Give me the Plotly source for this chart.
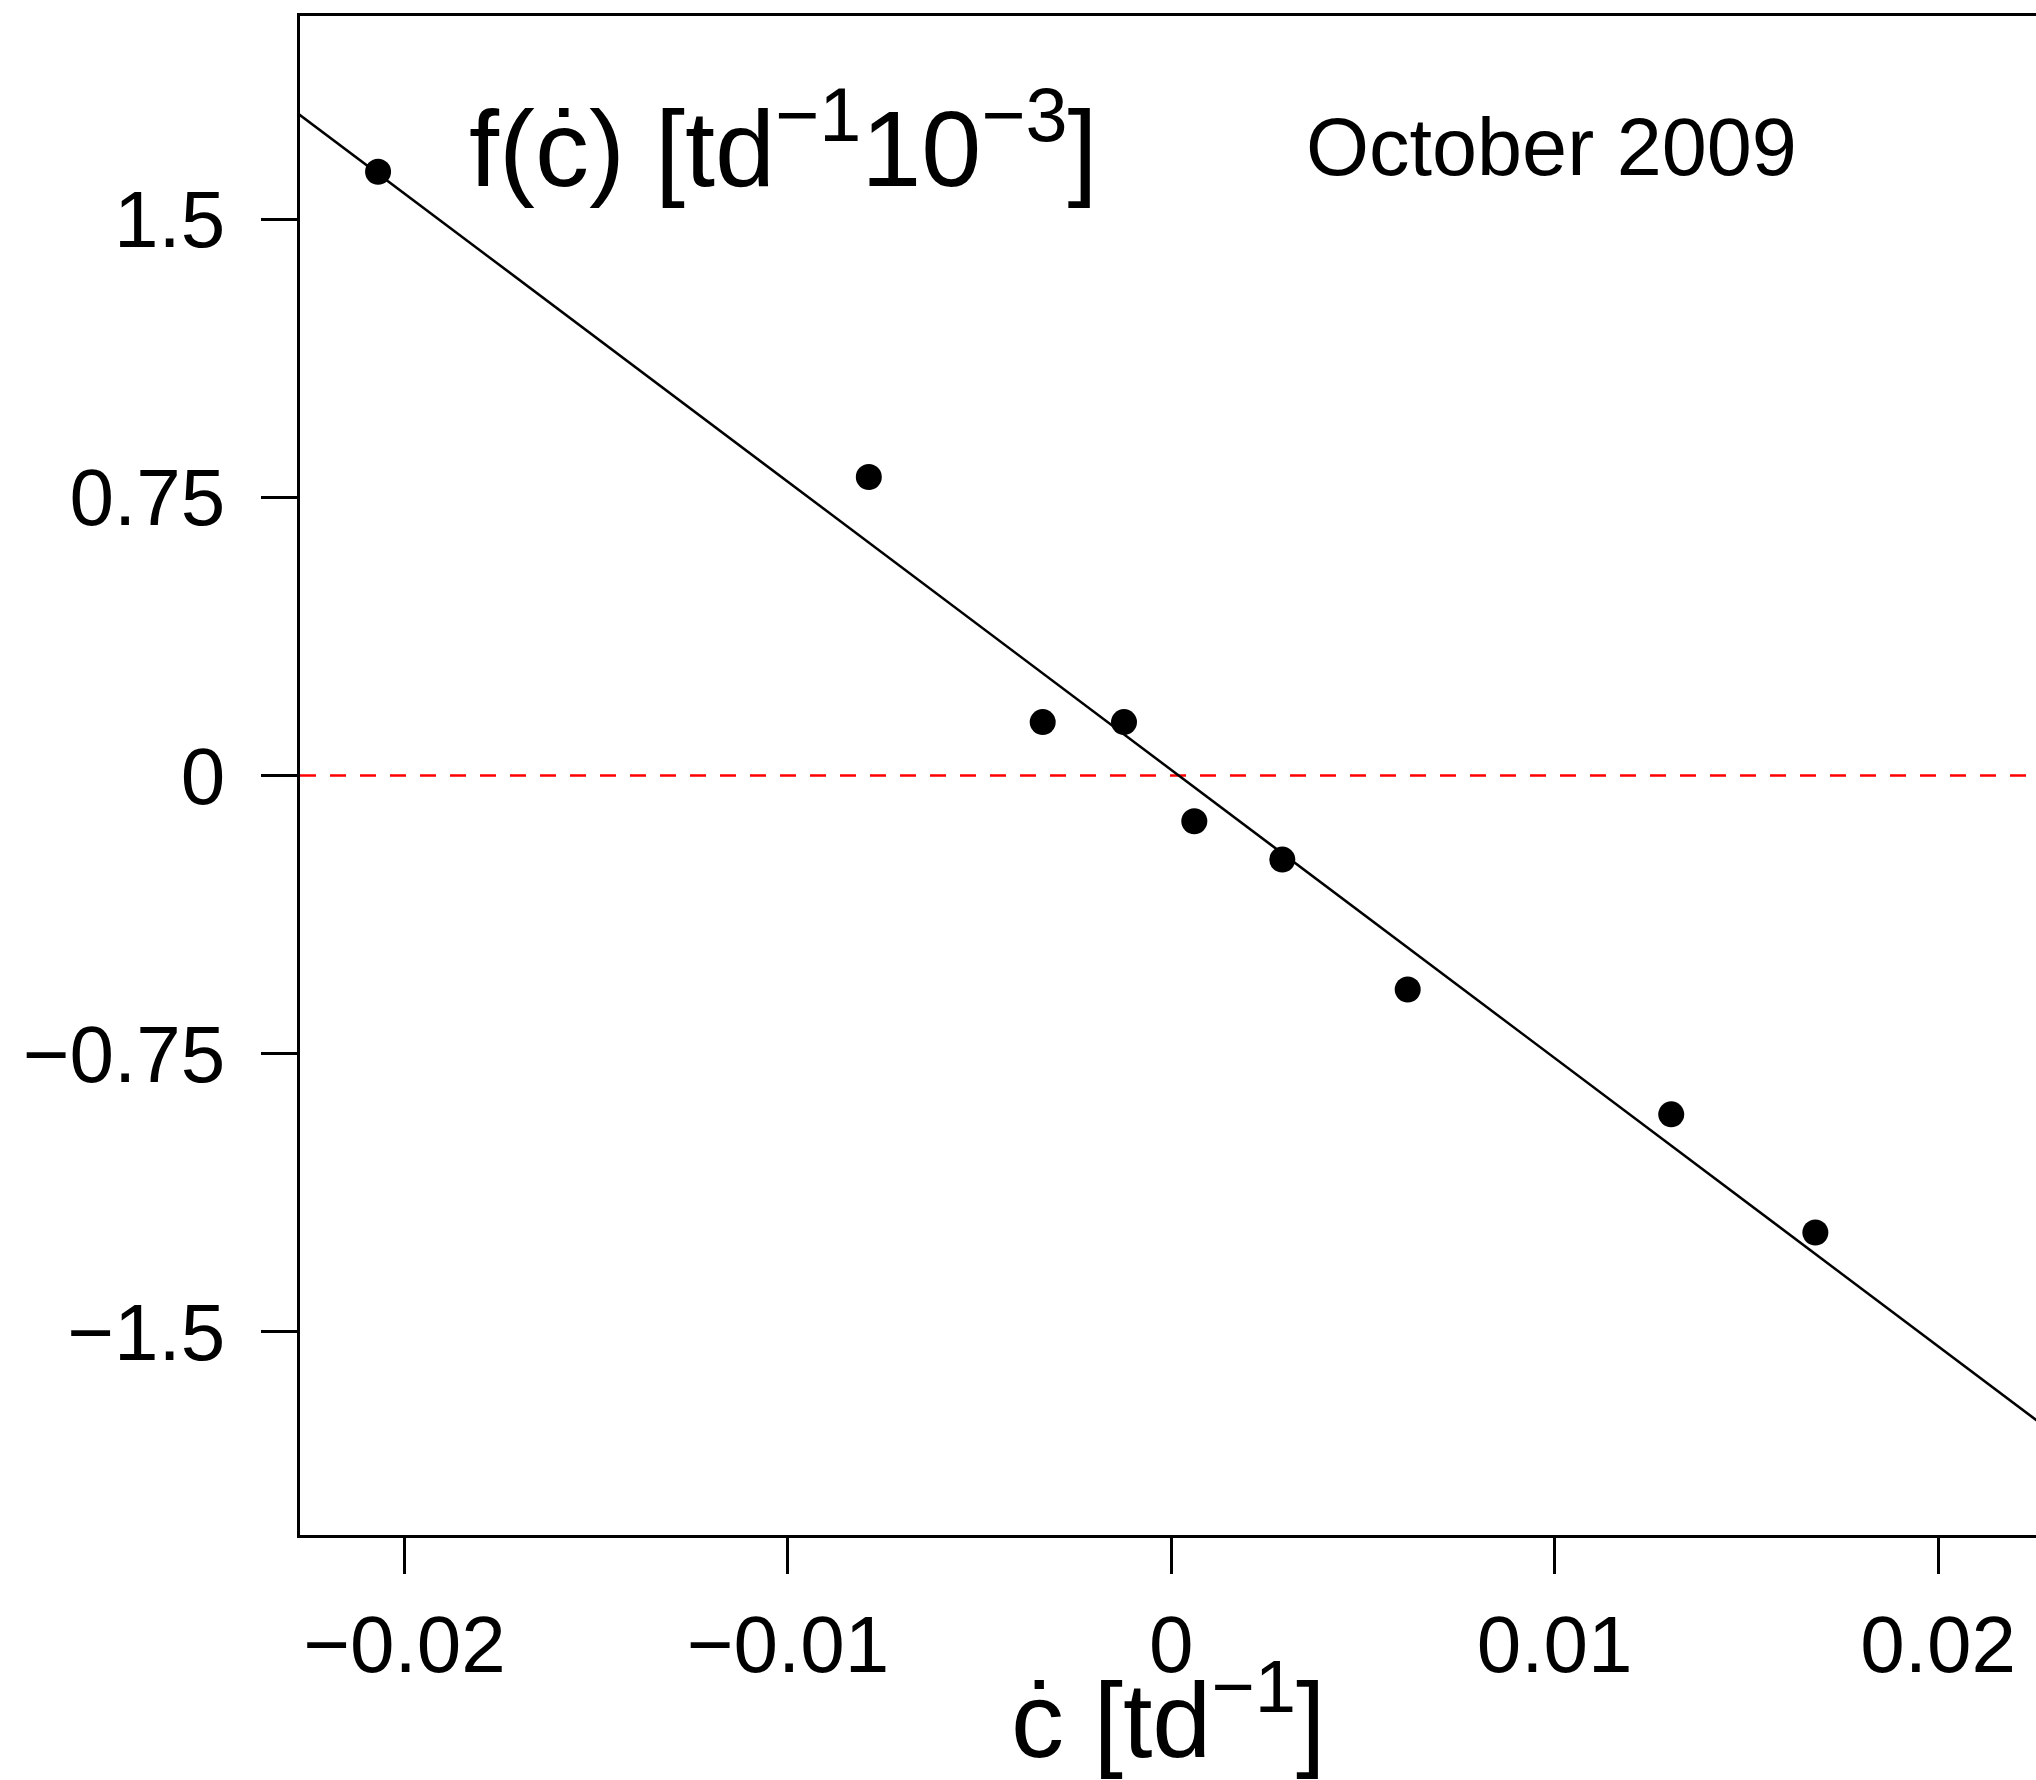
import plotly.graph_objects as go

# ---- data ----
c_dot = [-0.02069, -0.00789, -0.003354, -0.001234, 0.000600, 0.002895, 0.006166, 0.013040, 0.016799]
f_val = [1.628, 0.805, 0.144, 0.144, -0.1235, -0.2267, -0.5772, -0.9137, -1.2322]

fit_intercept = 0.015
fit_slope = -77.7

x_range = [-0.022726, 0.022554]
y_range = [-2.048, 2.048]

x_tickvals = [-0.02, -0.01, 0, 0.01, 0.02]
x_ticktext = ["\u22120.02", "\u22120.01", "0", "0.01", "0.02"]
y_tickvals = [-1.5, -0.75, 0, 0.75, 1.5]
y_ticktext = ["\u22121.5", "\u22120.75", "0", "0.75", "1.5"]

FONT = "Liberation Sans, Arial, Helvetica, sans-serif"

fit_x = [x_range[0] - 0.005, x_range[1] + 0.005]
fit_y = [fit_intercept + fit_slope * v for v in fit_x]

fig = go.Figure()
fig.add_trace(go.Scatter(x=fit_x, y=fit_y, mode="lines",
                         line=dict(color="black", width=2.5),
                         hoverinfo="skip", showlegend=False))
fig.add_trace(go.Scatter(x=c_dot, y=f_val, mode="markers",
                         marker=dict(color="black", size=26, line=dict(width=0)),
                         showlegend=False, cliponaxis=False))

fig.add_shape(type="line", xref="paper", yref="y", x0=0, x1=1, y0=0, y1=0,
              line=dict(color="#FF0000", width=2.5, dash="16px,14px"), layer="below")

fig.add_annotation(x=-0.01837, y=1.712, xref="x", yref="y", xanchor="left", yanchor="middle",
                   text="f(\u010b) [td<sup>\u22121</sup>10<sup>\u22123</sup>]", showarrow=False,
                   font=dict(family=FONT, size=108, color="black"))
fig.add_annotation(x=0.009917, y=1.6936, xref="x", yref="y", xanchor="center", yanchor="middle",
                   text="October 2009", showarrow=False,
                   font=dict(family=FONT, size=81, color="black"))
fig.add_annotation(x=-0.00009, y=-0.1165, xref="x", yref="paper", xanchor="center", yanchor="middle",
                   text="\u010b [td<sup>\u22121</sup>]", showarrow=False,
                   font=dict(family=FONT, size=106, color="black"))

fig.update_xaxes(range=x_range, tickvals=x_tickvals, ticktext=x_ticktext,
                 showgrid=False, zeroline=False, showline=True, linecolor="black",
                 linewidth=2.5, mirror=True, ticks="outside", ticklen=36, tickwidth=2.5,
                 tickcolor="black", ticklabelstandoff=2,
                 tickfont=dict(family=FONT, size=80, color="black"))
fig.update_yaxes(range=y_range, tickvals=y_tickvals, ticktext=y_ticktext,
                 showgrid=False, zeroline=False, showline=True, linecolor="black",
                 linewidth=2.5, mirror=False, ticks="outside", ticklen=36, tickwidth=2.5,
                 tickcolor="black", ticklabelstandoff=20,
                 tickfont=dict(family=FONT, size=80, color="black"))

fig.update_layout(width=2036, height=1780,
                  margin=dict(l=300, r=0, t=16, b=245, pad=0),
                  plot_bgcolor="white", paper_bgcolor="white",
                  showlegend=False)

fig.write_html("out.html")
